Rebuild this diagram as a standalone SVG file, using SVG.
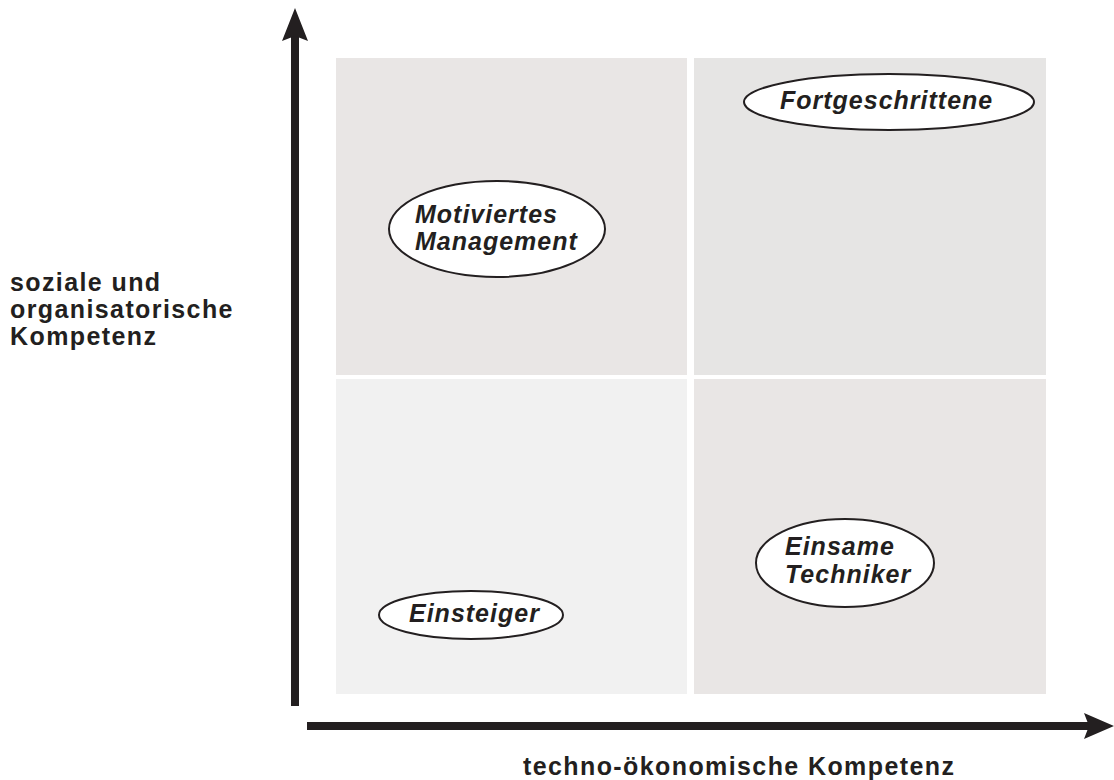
<svg xmlns="http://www.w3.org/2000/svg" width="1114" height="780" viewBox="0 0 1114 780">
  <style>
    .axis-label { font-family: "Liberation Sans", Arial, sans-serif; font-weight: bold; font-size: 25px; letter-spacing: 1.4px; fill: #231f20; }
    .node-shape { fill: #ffffff; stroke: #231f20; stroke-width: 2; }
    .node-text { font-family: "Liberation Sans", Arial, sans-serif; font-weight: bold; font-style: italic; font-size: 25px; letter-spacing: 1px; fill: #231f20; }
    .axis { fill: #231f20; }
  </style>
  <rect width="1114" height="780" fill="#ffffff"/>

  <!-- quadrant fields -->
  <g id="quadrants">
    <rect x="336" y="58" width="351" height="317" fill="#e9e6e5"/>
    <rect x="694" y="58" width="352" height="317" fill="#e6e5e4"/>
    <rect x="336" y="379" width="351" height="315" fill="#f1f1f1"/>
    <rect x="694" y="379" width="352" height="315" fill="#e9e6e5"/>
  </g>

  <!-- axes -->
  <g id="connectors">
    <rect class="axis" x="291" y="36" width="8" height="670"/>
    <path class="axis" d="M295,8 L308,41 L295,36 L282,41 Z"/>
    <rect class="axis" x="307" y="722" width="782" height="8"/>
    <path class="axis" d="M1114,726 L1084,739 L1089,726 L1084,713 Z"/>
  </g>

  <g id="label-y">
    <text class="axis-label" x="10" y="291">soziale und</text>
    <text class="axis-label" x="10" y="318">organisatorische</text>
    <text class="axis-label" x="10" y="345">Kompetenz</text>
  </g>
  <g id="label-x">
    <text class="axis-label" x="523" y="775">techno-ökonomische Kompetenz</text>
  </g>

  <g id="node-motiviertes-management">
    <ellipse class="node-shape" cx="497" cy="229" rx="108" ry="48"/>
    <text class="node-text" x="415" y="223">Motiviertes</text>
    <text class="node-text" x="415" y="250">Management</text>
  </g>

  <g id="node-fortgeschrittene">
    <ellipse class="node-shape" cx="889" cy="102" rx="145" ry="28"/>
    <text class="node-text" x="780" y="109">Fortgeschrittene</text>
  </g>

  <g id="node-einsteiger">
    <ellipse class="node-shape" cx="471" cy="615" rx="92" ry="24"/>
    <text class="node-text" x="409" y="622">Einsteiger</text>
  </g>

  <g id="node-einsame-techniker">
    <ellipse class="node-shape" cx="845" cy="563" rx="89" ry="44"/>
    <text class="node-text" x="785" y="555">Einsame</text>
    <text class="node-text" x="785" y="583">Techniker</text>
  </g>
</svg>
